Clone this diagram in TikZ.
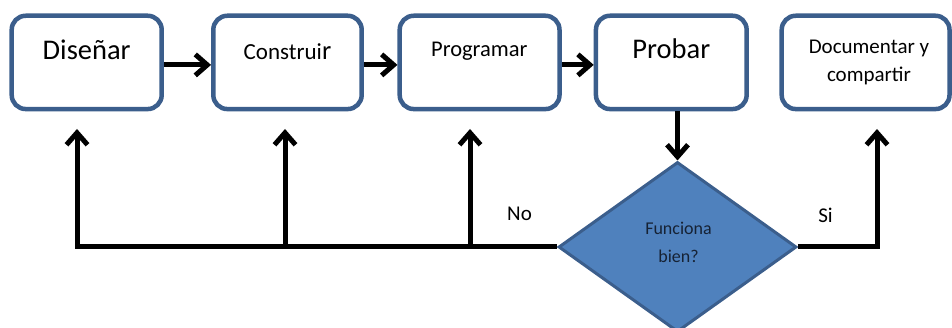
\documentclass[tikz,border=0pt]{standalone}
\usepackage{fontspec}
\setmainfont{Carlito}
\usetikzlibrary{shapes.geometric,arrows.meta}
\definecolor{boxblue}{RGB}{59,94,140}
\definecolor{dfill}{RGB}{79,129,189}
\definecolor{dtext}{RGB}{22,34,52}
\tikzset{
  box/.style={draw=boxblue, line width=4.5pt, rounded corners=14pt, fill=white,
    inner sep=0pt, minimum height=93.3pt},
  lbl/.style={anchor=base, inner sep=0pt, text=black},
  conn/.style={draw=black, line width=5pt, line join=miter,
    -{Straight Barb[length=12pt,width=21pt]}},
  dec/.style={draw=boxblue, fill=dfill, line width=3pt, shape=diamond,
    inner sep=0pt, minimum width=238pt, minimum height=170pt}
}
\begin{document}
\begin{tikzpicture}[x=1pt,y=-1pt]
\useasboundingbox (0,0) rectangle (952,328);
% boxes
\node[box, minimum width=150pt]   (dis) at (86.7,62.4) {};
\node[box, minimum width=148.4pt] (con) at (287.5,62.4) {};
\node[box, minimum width=159.8pt] (pro) at (479.6,62.4) {};
\node[box, minimum width=150.7pt] (pru) at (671.3,62.4) {};
\node[box, minimum width=167.8pt] (doc) at (865.6,62.4) {};
% box texts
\node[lbl, font=\fontsize{28.5}{30}\selectfont] (tdis) at (86.7,60) {Diseñar};
\node[lbl, font=\fontsize{23}{26}\selectfont] (tcon) at (287.5,59.3) {Construi{\fontsize{26.5}{28}\selectfont r}};
\node[lbl, font=\fontsize{22.5}{26}\selectfont] (tpro) at (479.3,56.3) {Programar};
\node[lbl, font=\fontsize{28.5}{30}\selectfont] (tpru) at (671.3,59) {Probar};
\node[lbl, font=\fontsize{21}{24}\selectfont] (tdoc1) at (869,53.3) {Documentar y};
\node[lbl, font=\fontsize{21}{24}\selectfont] (tdoc2) at (869,81.7) {compartir};
% decision
\node[dec] (q) at (677.5,247) {};
\node[lbl, text=dtext, font=\fontsize{18}{20}\selectfont] (tq1) at (678.5,235) {Funciona};
\node[lbl, text=dtext, font=\fontsize{18}{20}\selectfont] (tq2) at (678.5,263) {bien?};
% labels
\node[lbl, font=\fontsize{21}{24}\selectfont] (no) at (519.5,221) {No};
\node[lbl, font=\fontsize{21}{24}\selectfont] (si) at (825.5,223) {Si};
% coordinates
\coordinate (jL) at (77,247);
\coordinate (j2) at (285,247);
\coordinate (j3) at (470,247);
\coordinate (jR) at (877,247);
\coordinate (a1) at (77,129);
\coordinate (a2) at (285,129);
\coordinate (a3) at (470,129);
\coordinate (a5) at (877,129);
% top arrows
\draw[conn] ([yshift=-2.5pt]dis.east) -- ([yshift=-2.5pt]con.west);
\draw[conn] ([yshift=-2.5pt]con.east) -- ([yshift=-2.5pt]pro.west);
\draw[conn] ([yshift=-2.5pt]pro.east) -- ([yshift=-2.5pt]pru.west);
\draw[conn] (q.north |- pru.south) -- (q.north);
% feedback
\draw[conn] (q.west) -- (jL) -- (a1);
\draw[conn] (j2) -- (a2);
\draw[conn] (j3) -- (a3);
\draw[conn] (q.east) -- (jR) -- (a5);
\end{tikzpicture}
\end{document}
